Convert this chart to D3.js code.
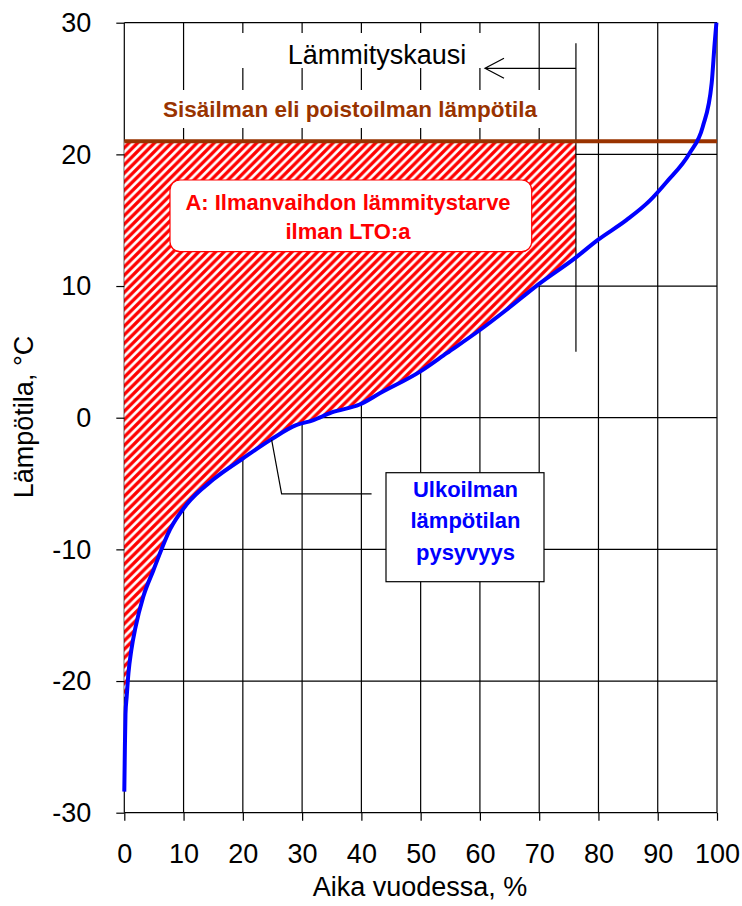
<!DOCTYPE html>
<html><head><meta charset="utf-8">
<script src="https://cdn.jsdelivr.net/npm/d3@7"></script>
<style>body{margin:0;background:#fff}svg{display:block}text{font-family:"Liberation Sans",Arial,sans-serif}</style>
</head><body><svg id="c" width="742" height="906"></svg>
<script>
// ---- data ----
const timePct = [0,0.1,0.2,0.4,0.7,1.2,1.9,3.2,4.9,7.7,10.5,15,20,24.6,29.1,31.8,35,39.7,43.1,49.9,54.4,60,64.5,70.1,76,79.9,84.7,88.7,91.5,95.4,97.6,99.1,99.6,99.9];
const outdoorT = [-28.4,-25,-22.5,-21.2,-19.4,-17.6,-15.9,-13.6,-11.6,-8.5,-6.6,-4.7,-3.1,-1.7,-0.55,-0.2,0.4,1.0,1.85,3.5,4.9,6.66,8.2,10.2,12.1,13.5,15.0,16.5,17.9,20.1,22.1,25.4,28.4,30];
const indoorT = 21;
const heatingEnd = 76.2;
const xTicks = [0,10,20,30,40,50,60,70,80,90,100];
const yTicks = [-30,-20,-10,0,10,20,30];
const labels = {
  season: "Lämmityskausi",
  indoor: "Sisäilman eli poistoilman lämpötila",
  needA: ["A: Ilmanvaihdon lämmitystarve","ilman LTO:a"],
  outdoor: ["Ulkoilman","lämpötilan","pysyvyys"],
  xTitle: "Aika vuodessa, %",
  yTitle: "Lämpötila, °C"
};

// ---- chart ----
const svg = d3.select("#c");
const x = d3.scaleLinear().domain([0,100]).range([124.3,717]);
const y = d3.scaleLinear().domain([-30,30]).range([812.7,22.7]);
const pts = timePct.map((t,i)=>[t,outdoorT[i]]);

// pattern
const P = 8.5;
const defs = svg.append("defs");
const pat = defs.append("pattern").attr("id","hatch").attr("patternUnits","userSpaceOnUse")
  .attr("width",P).attr("height",P);
pat.append("rect").attr("width",P).attr("height",P).attr("fill","#fff");
pat.append("path").attr("d",`M-3,3 L3,-3 M0,${P} L${P},0 M${P-3},${P+3} L${P+3},${P-3}`)
  .attr("stroke","#ff0000").attr("stroke-width",3.3);

// gridlines
const g = svg.append("g");
g.selectAll(".vg").data(xTicks).join("line")
  .attr("x1",d=>x(d)).attr("x2",d=>x(d)).attr("y1",y(30)).attr("y2",y(-30))
  .attr("stroke","#000").attr("stroke-width",1.2);
g.selectAll(".hg").data(yTicks).join("line")
  .attr("x1",x(0)).attr("x2",x(100)).attr("y1",d=>y(d)).attr("y2",d=>y(d))
  .attr("stroke","#000").attr("stroke-width",1.2);

// hatched area
const interp = d3.scaleLinear().domain(timePct).range(outdoorT);
const areaPts = [[0,-21.2]].concat(pts.filter(p=>p[0]>=0.4 && p[0]<heatingEnd)).concat([[heatingEnd, interp(heatingEnd)]]);
const area = d3.area().x(d=>x(d[0])).y0(d=>y(d[1])).y1(y(indoorT)).curve(d3.curveMonotoneX);
svg.append("path").datum(areaPts).attr("d",area).attr("fill","url(#hatch)");

// white label backgrounds
svg.append("rect").attr("x",236).attr("y",33).attr("width",272).attr("height",35).attr("fill","#fff");
svg.append("rect").attr("x",140).attr("y",90).attr("width",420).attr("height",38).attr("fill","#fff");

// season text + arrow
svg.append("text").attr("x",377).attr("y",64).attr("text-anchor","middle")
  .attr("font-size",27).attr("fill","#000").text(labels.season);
svg.append("line").attr("x1",x(heatingEnd)).attr("x2",x(heatingEnd)).attr("y1",43.3).attr("y2",351.7)
  .attr("stroke","#000").attr("stroke-width",1.2);
const ay = 68.3, ax = 485;
svg.append("path").attr("d",`M${x(heatingEnd)},${ay} L${ax},${ay} M${ax+19},${ay-10} L${ax},${ay} L${ax+19},${ay+10}`)
  .attr("fill","none").attr("stroke","#000").attr("stroke-width",1.2);

// indoor temp line
svg.append("line").attr("x1",x(0)).attr("x2",x(100)).attr("y1",y(indoorT)).attr("y2",y(indoorT))
  .attr("stroke","#993300").attr("stroke-width",4);
svg.append("text").attr("x",350).attr("y",117).attr("text-anchor","middle")
  .attr("font-size",22.5).attr("font-weight","bold").attr("fill","#993300").text(labels.indoor);

// A label box
svg.append("rect").attr("x",170).attr("y",180).attr("width",361.7).attr("height",71.7).attr("rx",10)
  .attr("fill","#fff").attr("stroke","#ff0000").attr("stroke-width",1.2);
svg.selectAll(".al").data(labels.needA).join("text")
  .attr("x",348).attr("y",(d,i)=>209.5+i*29).attr("text-anchor","middle")
  .attr("font-size",22).attr("font-weight","bold").attr("fill","#ff0000").text(d=>d);

// outdoor curve
const line = d3.line().x(d=>x(d[0])).y(d=>y(d[1])).curve(d3.curveMonotoneX);
svg.append("path").datum(pts).attr("d",line).attr("fill","none")
  .attr("stroke","#0000ff").attr("stroke-width",4).attr("stroke-linejoin","round");

// leader + outdoor box
const leader = [[24.86,-1.69],[26.54,-5.79],[41.72,-5.79]];
svg.append("path").attr("d",d3.line().x(d=>x(d[0])).y(d=>y(d[1]))(leader))
  .attr("fill","none").attr("stroke","#000").attr("stroke-width",1.2);
svg.append("rect").attr("x",386).attr("y",472.7).attr("width",158).attr("height",109)
  .attr("fill","#fff").attr("stroke","#000").attr("stroke-width",1.2);
svg.selectAll(".ol").data(labels.outdoor).join("text")
  .attr("x",465.5).attr("y",(d,i)=>496.7+i*31.7).attr("text-anchor","middle")
  .attr("font-size",22).attr("font-weight","bold").attr("fill","#0000ff").text(d=>d);

// axes
const xAxis = svg.append("g").attr("transform",`translate(0,${y(-30)})`)
  .call(d3.axisBottom(x).tickValues(xTicks).tickSize(8).tickPadding(23).tickFormat(d3.format("d")));
const yAxis = svg.append("g").attr("transform",`translate(${x(0)},0)`)
  .call(d3.axisLeft(y).tickValues(yTicks).tickSize(8).tickPadding(25).tickFormat(d3.format("d")));
[xAxis,yAxis].forEach(a=>{
  a.select(".domain").remove();
  a.selectAll(".tick line").attr("stroke","#000").attr("stroke-width",1.2);
  a.selectAll(".tick text").attr("font-size",27).attr("fill","#000")
    .attr("font-family","'Liberation Sans',Arial,sans-serif");
});
yAxis.selectAll(".tick text").text(d=>d<0?"-"+Math.abs(d):d);

svg.append("text").attr("x",420).attr("y",896).attr("text-anchor","middle")
  .attr("font-size",27).attr("fill","#000").text(labels.xTitle);
svg.append("text").attr("transform","translate(24,417) rotate(-90)").attr("dy","0.35em")
  .attr("text-anchor","middle").attr("font-size",27).attr("fill","#000").text(labels.yTitle);
</script></body></html>
